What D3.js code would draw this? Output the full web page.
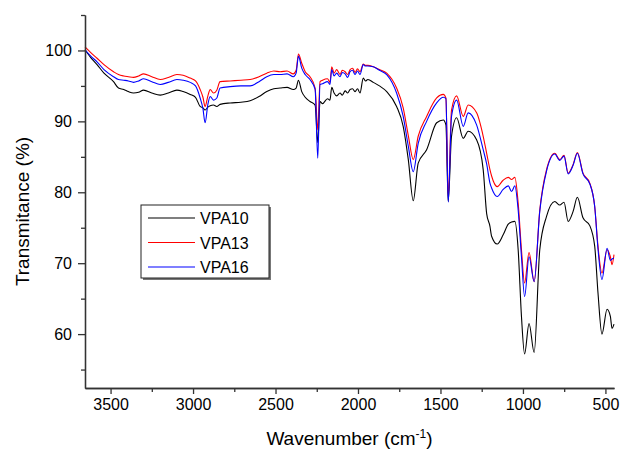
<!DOCTYPE html>
<html>
<head>
<meta charset="utf-8">
<script src="https://d3js.org/d3.v7.min.js"></script>
<style>
    body { margin: 0; background: #fff; }
    text { font-family: "Liberation Sans", Arial, sans-serif; fill: #000; }
</style>
</head>
<body>
<div id="chart"></div>
<script>
// wavenumber (cm-1), shared by all three spectra
const wavenumbers = [
    3655, 3620, 3582, 3540, 3482, 3452, 3420, 3392, 3361, 3330,
    3300, 3250, 3199, 3150, 3098, 3060, 3017, 2985, 2957, 2940,
    2927, 2910, 2896, 2876, 2856, 2836, 2775, 2710, 2654, 2600,
    2553, 2510, 2472, 2430, 2392, 2375, 2361, 2341, 2320, 2291,
    2260, 2244, 2230, 2215, 2185, 2170, 2159, 2145, 2129, 2109,
    2095, 2078, 2063, 2048, 2033, 2018, 2003, 1988, 1968, 1955,
    1940, 1907, 1870, 1826, 1766, 1726, 1695, 1665, 1635, 1584,
    1523, 1483, 1467, 1453, 1433, 1402, 1362, 1332, 1281, 1241,
    1220, 1200, 1190, 1156, 1120, 1089, 1069, 1049, 1029, 1009,
    990, 963, 932, 898, 857, 807, 777, 751, 726, 696,
    670, 636, 595, 565, 545, 521, 490, 470, 460, 448
];

const vpa10 = [
    100.1, 99.0, 98.0, 96.8, 95.6, 94.7, 94.5, 94.2, 94.0, 94.1,
    94.4, 94.0, 93.7, 94.0, 94.4, 94.2, 93.8, 93.4, 92.1, 91.9,
    91.6, 92.0, 92.2, 92.3, 92.1, 92.4, 92.6, 92.7, 92.9, 93.5,
    94.2, 94.6, 94.7, 94.8, 94.5, 94.7, 95.8, 94.2, 93.4, 92.8,
    92.3, 87.0, 92.8, 92.5, 93.2, 93.0, 94.8, 94.0, 93.6, 94.0,
    93.7, 94.3, 94.0, 94.5, 94.6, 94.2, 94.6, 94.0, 96.1, 95.7,
    95.9, 95.5, 95.0, 94.2, 92.1, 89.3, 84.6, 78.8, 84.1, 86.0,
    89.8, 90.2, 89.5, 78.7, 87.9, 90.5, 87.6, 88.6, 87.4, 83.2,
    77.0, 75.2, 73.8, 72.7, 74.0, 75.5, 75.8, 75.9, 71.9, 62.5,
    57.2, 61.5, 57.4, 71.9, 76.6, 78.7, 78.2, 78.6, 75.9, 77.3,
    79.3, 76.4, 75.3, 72.4, 65.8, 60.0, 63.5, 62.5, 60.8, 61.4
];

const vpa13 = [
    100.5, 99.7, 98.9, 98.0, 97.0, 96.6, 96.4, 96.3, 96.2, 96.4,
    96.7, 96.3, 95.9, 96.2, 96.6, 96.5, 96.1, 95.7, 94.5, 93.4,
    92.1, 93.6, 94.5, 94.0, 94.4, 95.6, 95.7, 95.8, 95.9, 96.3,
    96.8, 97.1, 97.0, 97.1, 96.7, 97.2, 99.5, 98.2, 97.0, 96.3,
    94.7, 88.8, 95.6, 95.8, 96.0, 95.5, 97.7, 96.8, 97.3, 96.6,
    97.2, 97.0, 96.6, 97.3, 97.5, 96.9, 97.4, 97.0, 98.1, 97.9,
    97.9, 97.7, 97.3, 96.8, 94.7, 91.9, 88.0, 84.6, 87.9, 90.7,
    93.3, 93.8, 93.3, 79.4, 91.6, 93.6, 90.7, 92.3, 91.2, 87.9,
    85.5, 83.2, 82.3, 80.8, 81.7, 82.1, 81.8, 82.1, 78.5, 71.9,
    67.2, 71.5, 67.4, 77.5, 83.2, 85.5, 84.6, 85.2, 82.7, 83.9,
    85.6, 82.7, 81.3, 78.0, 72.4, 68.6, 71.9, 70.9, 69.8, 71.2
];

const vpa16 = [
    100.1, 99.2, 98.4, 97.3, 96.3, 95.9, 95.8, 95.7, 95.5, 95.7,
    96.0, 95.6, 95.2, 95.5, 95.9, 95.8, 95.5, 95.0, 93.3, 91.8,
    89.8, 92.4, 93.5, 93.0, 93.3, 94.7, 94.9, 95.0, 95.0, 95.6,
    96.3, 96.6, 96.6, 96.7, 96.3, 96.8, 99.2, 97.5, 96.6, 95.9,
    94.5, 84.8, 95.2, 95.3, 95.6, 95.2, 97.3, 96.4, 96.8, 96.3,
    96.9, 96.7, 96.2, 97.0, 97.2, 96.6, 97.1, 96.6, 98.0, 97.8,
    97.8, 97.7, 97.2, 96.6, 94.0, 90.7, 86.5, 82.9, 86.9, 90.0,
    92.6, 93.4, 93.2, 78.6, 90.7, 93.0, 89.3, 91.2, 89.5, 86.0,
    84.0, 81.3, 80.6, 79.4, 80.4, 80.9, 80.1, 80.9, 77.5, 70.9,
    65.3, 70.9, 67.4, 77.3, 83.0, 85.4, 84.5, 85.1, 82.6, 83.8,
    85.5, 82.6, 81.2, 78.0, 72.0, 67.7, 72.1, 70.4, 70.6, 70.7
];

const seriesNames = ['VPA10', 'VPA13', 'VPA16'];
const seriesColors = ['#000000', '#ff0000', '#0000ff'];
const xTicks = [3500, 3000, 2500, 2000, 1500, 1000, 500];
const xMinorTicks = [3250, 2750, 2250, 1750, 1250, 750];
const yTicks = [60, 70, 80, 90, 100];
const yMinorTicks = [55, 65, 75, 85, 95, 105];

function drawChart() {
    const width = 621, height = 452;
    const left = 85, right = 614, top = 15, bottom = 388;

    const svg = d3.select('#chart')
        .append('svg')
        .attr('width', width)
        .attr('height', height);

    const x = d3.scaleLinear().domain([3655, 448]).range([left, right]);
    const y = d3.scaleLinear().domain([52.4, 105]).range([bottom, top]);

    // spectra
    const allSeries = [vpa10, vpa13, vpa16];
    const line = d3.line()
        .x((d, i) => x(wavenumbers[i]))
        .y(d => y(d))
        .curve(d3.curveMonotoneX);

    allSeries.forEach((vals, s) => {
        svg.append('path')
            .datum(vals)
            .attr('fill', 'none')
            .attr('stroke', seriesColors[s])
            .attr('stroke-width', 1.1)
            .attr('d', line);
    });

    // axes
    svg.append('g')
        .attr('transform', `translate(0,${bottom})`)
        .call(d3.axisBottom(x).tickValues(xTicks).tickFormat(d3.format('d'))
            .tickSize(6).tickPadding(5).tickSizeOuter(0));
    svg.append('g')
        .attr('transform', `translate(0,${bottom})`)
        .call(d3.axisBottom(x).tickValues(xMinorTicks).tickSize(4).tickFormat('').tickSizeOuter(0));

    svg.append('g')
        .attr('transform', `translate(${left},0)`)
        .call(d3.axisLeft(y).tickValues(yTicks).tickFormat(d3.format('d'))
            .tickSize(7).tickPadding(6).tickSizeOuter(0));
    svg.append('g')
        .attr('transform', `translate(${left},0)`)
        .call(d3.axisLeft(y).tickValues(yMinorTicks).tickSize(4).tickFormat('').tickSizeOuter(0));

    svg.selectAll('.domain').attr('stroke', '#333').attr('stroke-width', 1.3);
    svg.selectAll('.tick line').attr('stroke', '#333').attr('stroke-width', 1.3);
    svg.selectAll('.tick text')
        .style('font-family', '"Liberation Sans", Arial, sans-serif')
        .style('font-size', '16px')
        .attr('fill', '#000');

    // axis titles
    const xt = svg.append('text')
        .attr('x', (left + right) / 2)
        .attr('y', 445)
        .attr('text-anchor', 'middle')
        .style('font-size', '19px');
    xt.append('tspan').text('Wavenumber (cm');
    xt.append('tspan').text('-1').attr('dy', -7).style('font-size', '12px');
    xt.append('tspan').text(')').attr('dy', 7);

    svg.append('text')
        .attr('transform', `translate(29,${(top + bottom) / 2 + 10}) rotate(-90)`)
        .attr('text-anchor', 'middle')
        .style('font-size', '19px')
        .text('Transmitance (%)');

    // legend
    const lg = svg.append('g').attr('transform', 'translate(141,205)');
    lg.append('rect')
        .attr('x', 2).attr('y', 2)
        .attr('width', 128).attr('height', 73)
        .attr('fill', '#777');
    lg.append('rect')
        .attr('width', 128).attr('height', 73)
        .attr('fill', '#fff')
        .attr('stroke', '#222')
        .attr('stroke-width', 1);
    seriesNames.forEach((name, i) => {
        const ry = 13 + i * 24.5;
        lg.append('line')
            .attr('x1', 7).attr('x2', 54)
            .attr('y1', ry).attr('y2', ry)
            .attr('stroke', seriesColors[i])
            .attr('stroke-width', 1.1);
        lg.append('text')
            .attr('x', 59).attr('y', ry + 6)
            .style('font-size', '16px')
            .text(name);
    });
}

drawChart();
</script>
</body>
</html>
